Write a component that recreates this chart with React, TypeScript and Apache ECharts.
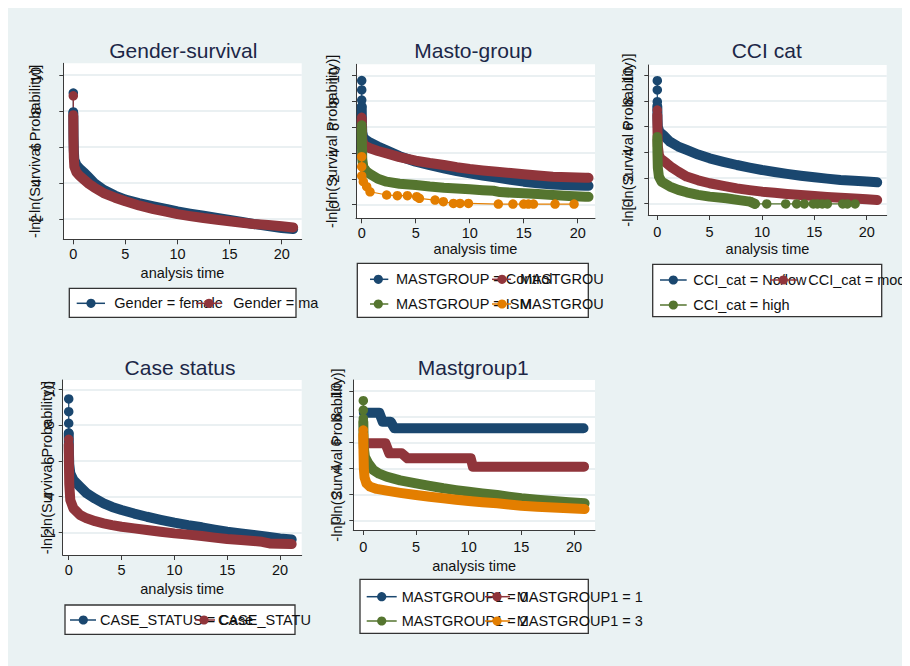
import { useEffect, useRef } from "react";
import * as echarts from "echarts";

// ---------- colours (Stata s2color) ----------
const NAVY = "#1a476f";
const MAROON = "#90353b";
const GREEN = "#55752f";
const ORANGE = "#e37e00";

// ---------- text ----------
const panelTitles = ["Gender-survival", "Masto-group", "CCI cat", "Case status", "Mastgroup1"];
const xTitle = "analysis time";
const yTitle = "-ln[-ln(Survival Probability)]";
const xTicks = [0, 5, 10, 15, 20];
const yTicksFrom2 = [2, 4, 6, 8, 10];
const yTicksFrom0 = [0, 2, 4, 6, 8, 10];

const genderLabels = ["Gender = female", "Gender = male"];
const mastoLabels = ["MASTGROUP = Control", "MASTGROUP", "MASTGROUP = ISM", "MASTGROUP"];
const cciLabels = ["CCI_cat = No/low", "CCI_cat = moderate", "CCI_cat = high"];
const caseLabels = ["CASE_STATUS = Case", "CASE_STATUS = Control"];
const mg1Labels = ["MASTGROUP1 = 0", "MASTGROUP1 = 1", "MASTGROUP1 = 2", "MASTGROUP1 = 3"];

// ---------- data: [analysis time, -ln(-ln S)] ----------
// Panel 1: Gender
const genderFemaleDots = [[0, 9.0], [0, 7.95]];
const genderFemaleBand = [[0, 7.9], [0.02, 6.6], [0.05, 5.8], [0.1, 5.3], [0.3, 5.0], [0.6, 4.8], [1, 4.6], [1.5, 4.3], [2, 4.0], [2.9, 3.62], [4, 3.3], [5, 3.07], [6.3, 2.88], [7.7, 2.7], [9, 2.55], [10, 2.42], [11.2, 2.3], [12.5, 2.18], [13.8, 2.06], [15, 1.94], [16.2, 1.83], [17.3, 1.72], [18.7, 1.6], [20, 1.5], [21.1, 1.44]];
const genderMaleDots = [[0, 8.84], [0, 7.78]];
const genderMaleBand = [[0, 7.7], [0.02, 6.3], [0.05, 5.4], [0.1, 4.9], [0.3, 4.6], [0.6, 4.4], [1, 4.2], [1.5, 3.95], [2, 3.75], [2.9, 3.44], [4, 3.18], [5, 2.98], [6.3, 2.75], [7.7, 2.55], [9, 2.4], [10, 2.27], [11.2, 2.16], [12.5, 2.05], [13.8, 1.96], [15, 1.87], [16.2, 1.79], [17.3, 1.72], [18.7, 1.67], [20, 1.6], [21.1, 1.53]];

// Panel 2: Masto-group
const mastoNavyDots = [[0, 9.59], [0, 8.87], [0, 8.09], [0, 7.58]];
const mastoNavyBand = [[0, 7.58], [0.02, 6.3], [0.05, 5.6], [0.15, 5.2], [0.4, 5.0], [0.77, 4.8], [1.5, 4.5], [2.3, 4.2], [3.5, 3.75], [5, 3.32], [6.3, 3.05], [7.6, 2.81], [8.8, 2.6], [10, 2.42], [11.2, 2.25], [12.5, 2.09], [13.8, 1.93], [15, 1.78], [16.3, 1.66], [17.7, 1.57], [19.2, 1.5], [20.7, 1.47], [21, 1.46]];
const mastoRedDots = [[0, 6.75]];
const mastoRedBand = [[0, 6.6], [0.02, 5.6], [0.05, 5.0], [0.2, 4.6], [0.77, 4.36], [1.5, 4.15], [2.3, 3.97], [3.5, 3.68], [5, 3.4], [6.3, 3.22], [7.6, 3.07], [8.8, 2.9], [10, 2.76], [11.2, 2.65], [12.5, 2.55], [13.8, 2.45], [15, 2.35], [16.3, 2.25], [17.7, 2.16], [19.2, 2.12], [20.7, 2.09], [21, 2.08]];
const mastoGreenDots = [[0, 6.16]];
const mastoGreenBand = [[0, 5.9], [0.02, 4.6], [0.05, 3.5], [0.15, 2.9], [0.46, 2.55], [0.77, 2.37], [1.5, 2.0], [2.3, 1.78], [3.5, 1.62], [5, 1.52], [6.3, 1.4], [7.6, 1.31], [8.8, 1.25], [10, 1.19], [11.2, 1.12], [12.2, 1.08], [12.8, 0.98], [14, 0.92], [15, 0.88], [16.3, 0.82], [17.7, 0.75], [19.2, 0.68], [20.7, 0.62], [21, 0.61]];
const mastoOrangeDots = [[0, 3.71], [0, 2.94], [0, 2.22], [0.15, 1.78], [0.46, 1.39], [0.77, 1.0], [2.31, 0.75], [3.3, 0.7], [4.23, 0.7], [5.09, 0.62], [5.34, 0.49], [6.79, 0.36], [7.56, 0.23], [8.49, 0.1], [9.1, 0.1], [9.88, 0.1], [12.65, 0.05], [14.0, 0.05], [15.0, 0.05], [15.43, 0.05], [15.9, 0.05], [17.9, 0.05], [19.66, 0.05]];

// Panel 3: CCI cat
const cciNavyDots = [[0, 9.61], [0, 8.88], [0, 7.96]];
const cciNavyBand = [[0, 7.6], [0.02, 6.6], [0.05, 6.0], [0.2, 5.6], [0.57, 5.35], [1.2, 4.83], [2, 4.45], [2.8, 4.18], [3.9, 3.82], [5, 3.52], [6.3, 3.25], [7.6, 3.0], [8.8, 2.8], [10, 2.61], [11.2, 2.45], [12.4, 2.3], [13.7, 2.16], [15, 2.04], [16.2, 1.93], [17.5, 1.83], [18.8, 1.76], [20, 1.7], [21, 1.64]];
const cciRedDots = [[0, 7.31]];
const cciRedBand = [[0, 6.9], [0.02, 5.6], [0.05, 4.5], [0.15, 3.8], [0.3, 3.5], [0.9, 3.13], [1.4, 2.8], [2.0, 2.48], [2.8, 2.09], [3.9, 1.8], [5, 1.57], [6.3, 1.36], [7.6, 1.17], [8.8, 1.03], [10, 0.91], [11.2, 0.82], [12.4, 0.73], [13.7, 0.65], [15, 0.57], [16.2, 0.5], [17.5, 0.44], [18.8, 0.38], [20, 0.31], [21, 0.26]];
const cciGreenDots = [[0, 5.22]];
const cciGreenBand = [[0, 5.0], [0.02, 3.8], [0.05, 2.8], [0.15, 2.1], [0.4, 1.7], [1.2, 1.31], [2, 1.05], [2.8, 0.86], [3.9, 0.66], [5, 0.52], [6.6, 0.39], [7.8, 0.25], [8.85, 0.13], [9.33, -0.05]];
const cciGreenTail = [[8.85, 0.13], [9.33, -0.05], [10.45, -0.05], [12.26, -0.05], [13.31, -0.05], [14.04, -0.05], [14.9, -0.05], [15.29, -0.05], [15.76, -0.05], [16.24, -0.05], [17.71, -0.05], [18.15, -0.05], [18.89, -0.05]];

// Panel 4: Case status
const caseNavyDots = [[0, 9.46], [0, 8.75], [0, 8.1], [0, 7.54]];
const caseNavyBand = [[0, 7.54], [0.02, 6.5], [0.05, 5.8], [0.15, 5.3], [0.44, 4.93], [1.07, 4.55], [1.7, 4.18], [2.5, 3.88], [3.3, 3.62], [4.1, 3.42], [5, 3.25], [6.2, 3.05], [7.4, 2.87], [8.7, 2.7], [10, 2.54], [11.3, 2.4], [12.6, 2.28], [13.8, 2.15], [15, 2.03], [16.3, 1.94], [17.5, 1.85], [18.8, 1.75], [20, 1.66], [21.1, 1.6]];
const caseRedDots = [[0, 7.2]];
const caseRedBand = [[0, 6.9], [0.02, 5.8], [0.05, 4.7], [0.15, 3.8], [0.44, 3.34], [1.07, 2.97], [1.7, 2.78], [2.5, 2.62], [3.3, 2.5], [4.1, 2.4], [5, 2.31], [6.2, 2.22], [7.4, 2.13], [8.7, 2.03], [10, 1.94], [11.3, 1.87], [12.6, 1.79], [13.8, 1.7], [15, 1.62], [16.3, 1.57], [17.5, 1.51], [18.3, 1.47], [19, 1.38], [20, 1.36], [21.1, 1.34]];

// Panel 5: Mastgroup1
const mg0Band = [[0.05, 8.3], [1.52, 8.3], [1.84, 7.61], [2.6, 7.61], [2.95, 7.1], [20.9, 7.1]];
const mg1Band = [[0.1, 5.94], [2.1, 5.94], [2.47, 5.17], [3.64, 5.17], [4.2, 4.78], [10.2, 4.78], [10.4, 4.14], [20.95, 4.14]];
const mg2Dots = [[0, 9.23], [0, 8.51], [0, 7.87]];
const mg2Band = [[0, 7.6], [0.02, 6.5], [0.05, 5.6], [0.15, 4.9], [0.47, 4.4], [0.95, 3.88], [1.5, 3.6], [2.2, 3.37], [3.5, 3.08], [5, 2.85], [6.3, 2.65], [7.6, 2.47], [8.8, 2.33], [10, 2.21], [11.3, 2.08], [12.7, 1.95], [13.8, 1.82], [15, 1.7], [16.5, 1.59], [18, 1.49], [19.5, 1.4], [21, 1.31]];
const mg3Dots = [[0, 6.97]];
const mg3Band = [[0, 6.6], [0.02, 5.2], [0.05, 4.0], [0.12, 3.3], [0.3, 2.85], [0.63, 2.6], [1.27, 2.42], [2.2, 2.29], [3.5, 2.12], [5, 1.95], [6.3, 1.82], [7.6, 1.7], [8.8, 1.59], [10, 1.49], [11.3, 1.4], [12.7, 1.31], [13.8, 1.22], [15, 1.13], [16.5, 1.05], [18, 0.98], [19.5, 0.92], [21, 0.87]];

// ---------- layout (page pixels) ----------
const OFF = 8; // body margin
const P = (v: number) => v - OFF;
const FONT = '"Liberation Sans", Arial, Helvetica, sans-serif';
const TXT = "#111111";
const AXIS = "#3a3a3a";
const GRIDC = "#e3ebee";
const BG = "#eaf2f3";
const BAND_W = 10;
const MARK = 9.5;

type Curve = { color: string; band?: number[][]; dots?: number[][] };
type LegItem = { y: number; x1: number; x2: number; mx: number; tx: number; color: string; label: string };
type Panel = {
  title: string; titleX: number; titleY: number;
  l: number; t: number; r: number; b: number;
  xMin: number; xMax: number; yMin: number; yMax: number;
  yTicks: number[]; yLabelMargin: number; yNameGap: number; xLabelMargin: number; xNameGap: number;
  curves: Curve[];
  legend: { box: number[]; clipX?: number; items: LegItem[] };
};

const panels: Panel[] = [
  {
    title: panelTitles[0], titleX: 183.3, titleY: 50.7,
    l: 63.3, t: 63.3, r: 301.7, b: 239.3,
    xMin: -0.96, xMax: 21.92, yMin: 0.87, yMax: 10.65,
    yTicks: yTicksFrom2, yLabelMargin: 19.5, yNameGap: 21, xLabelMargin: 7.5, xNameGap: 26,
    curves: [
      { color: NAVY, band: genderFemaleBand, dots: genderFemaleDots },
      { color: MAROON, band: genderMaleBand, dots: genderMaleDots },
    ],
    legend: {
      box: [69.3, 288.3, 296, 317.3], clipX: 320,
      items: [
        { y: 303.3, x1: 76.7, x2: 105, mx: 91, tx: 114.3, color: NAVY, label: genderLabels[0] },
        { y: 303.3, x1: 196, x2: 222, mx: 209, tx: 233.3, color: MAROON, label: genderLabels[1] },
      ],
    },
  },
  {
    title: panelTitles[1], titleX: 473.3, titleY: 50.7,
    l: 356, t: 64.3, r: 595, b: 218.3,
    xMin: -0.53, xMax: 21.6, yMin: -1.05, yMax: 10.85,
    yTicks: yTicksFrom0, yLabelMargin: 15, yNameGap: 17, xLabelMargin: 7, xNameGap: 23,
    curves: [
      { color: NAVY, band: mastoNavyBand, dots: mastoNavyDots },
      { color: MAROON, band: mastoRedBand, dots: mastoRedDots },
      { color: GREEN, band: mastoGreenBand, dots: mastoGreenDots },
      { color: ORANGE, dots: mastoOrangeDots },
    ],
    legend: {
      box: [357.3, 263.3, 588.3, 317.3], clipX: 610,
      items: [
        { y: 279.3, x1: 370, x2: 388.3, mx: 378.3, tx: 396, color: NAVY, label: mastoLabels[0] },
        { y: 279.3, x1: 492, x2: 511, mx: 502, tx: 520, color: MAROON, label: mastoLabels[1] },
        { y: 304, x1: 370, x2: 388.3, mx: 378.3, tx: 396, color: GREEN, label: mastoLabels[2] },
        { y: 304, x1: 492, x2: 511, mx: 502, tx: 520, color: ORANGE, label: mastoLabels[3] },
      ],
    },
  },
  {
    title: panelTitles[2], titleX: 766.7, titleY: 50.7,
    l: 648.3, t: 65, r: 886.7, b: 215,
    xMin: -0.86, xMax: 21.91, yMin: -0.92, yMax: 10.84,
    yTicks: yTicksFrom0, yLabelMargin: 13, yNameGap: 13, xLabelMargin: 9, xNameGap: 26.5,
    curves: [
      { color: NAVY, band: cciNavyBand, dots: cciNavyDots },
      { color: MAROON, band: cciRedBand, dots: cciRedDots },
      { color: GREEN, band: cciGreenBand, dots: cciGreenDots },
      { color: GREEN, dots: cciGreenTail },
    ],
    legend: {
      box: [652.7, 264.3, 881.7, 316.7],
      items: [
        { y: 280, x1: 660, x2: 686.7, mx: 673.3, tx: 693.3, color: NAVY, label: cciLabels[0] },
        { y: 280, x1: 770, x2: 797, mx: 783.3, tx: 808.3, color: MAROON, label: cciLabels[1] },
        { y: 305, x1: 660, x2: 686.7, mx: 673.3, tx: 693.3, color: GREEN, label: cciLabels[2] },
      ],
    },
  },
  {
    title: panelTitles[3], titleX: 180, titleY: 367.3,
    l: 62.7, t: 380, r: 301.7, b: 555,
    xMin: -0.57, xMax: 22.05, yMin: 0.73, yMax: 10.52,
    yTicks: yTicksFrom2, yLabelMargin: 6.5, yNameGap: 8.5, xLabelMargin: 7.5, xNameGap: 26,
    curves: [
      { color: NAVY, band: caseNavyBand, dots: caseNavyDots },
      { color: MAROON, band: caseRedBand, dots: caseRedDots },
    ],
    legend: {
      box: [65, 605, 295, 634.3], clipX: 318,
      items: [
        { y: 620, x1: 70, x2: 96, mx: 83.3, tx: 100, color: NAVY, label: caseLabels[0] },
        { y: 620, x1: 195, x2: 215, mx: 204, tx: 218, color: MAROON, label: caseLabels[1] },
      ],
    },
  },
  {
    title: panelTitles[4], titleX: 473.3, titleY: 367.3,
    l: 353.3, t: 380, r: 595, b: 530,
    xMin: -0.95, xMax: 21.99, yMin: -0.75, yMax: 10.83,
    yTicks: yTicksFrom0, yLabelMargin: 9.5, yNameGap: 9, xLabelMargin: 9, xNameGap: 28,
    curves: [
      { color: NAVY, band: mg0Band },
      { color: MAROON, band: mg1Band },
      { color: GREEN, band: mg2Band, dots: mg2Dots },
      { color: ORANGE, band: mg3Band, dots: mg3Dots },
    ],
    legend: {
      box: [360, 579.3, 588.3, 633.3],
      items: [
        { y: 596.7, x1: 366.7, x2: 396.7, mx: 381.7, tx: 401.7, color: NAVY, label: mg1Labels[0] },
        { y: 596.7, x1: 485, x2: 510, mx: 497, tx: 516.7, color: MAROON, label: mg1Labels[1] },
        { y: 621, x1: 366.7, x2: 396.7, mx: 381.7, tx: 401.7, color: GREEN, label: mg1Labels[2] },
        { y: 621, x1: 485, x2: 510, mx: 497, tx: 516.7, color: ORANGE, label: mg1Labels[3] },
      ],
    },
  },
];

function buildOption() {
  const grids: any[] = [];
  const xAxes: any[] = [];
  const yAxes: any[] = [];
  const series: any[] = [];
  const graphics: any[] = [];
  const smallText = { fontSize: 14.5, color: TXT, fontFamily: FONT };

  panels.forEach((p, i) => {
    grids.push({
      left: P(p.l), top: P(p.t), width: p.r - p.l, height: p.b - p.t,
      show: true, backgroundColor: "#ffffff", borderWidth: 0, containLabel: false,
      outerBoundsMode: "none",
    });
    xAxes.push({
      type: "value", gridIndex: i, min: p.xMin, max: p.xMax,
      axisLine: { show: true, onZero: false, lineStyle: { color: AXIS, width: 1 } },
      axisTick: { show: true, customValues: xTicks, length: 5, lineStyle: { color: AXIS, width: 1 } },
      axisLabel: { show: true, customValues: xTicks, margin: p.xLabelMargin, hideOverlap: false, ...smallText },
      splitLine: { show: false },
      name: xTitle, nameLocation: "middle", nameGap: p.xNameGap, nameTextStyle: smallText,
      nameMoveOverlap: false,
    });
    yAxes.push({
      type: "value", gridIndex: i, min: p.yMin, max: p.yMax,
      axisLine: { show: true, onZero: false, lineStyle: { color: AXIS, width: 1 } },
      axisTick: { show: true, customValues: p.yTicks, length: 4, lineStyle: { color: AXIS, width: 1 } },
      axisLabel: { show: true, customValues: p.yTicks, rotate: 90, margin: p.yLabelMargin, hideOverlap: false, ...smallText },
      splitLine: { show: true, lineStyle: { color: GRIDC, width: 1.5 } },
      name: yTitle, nameLocation: "middle", nameRotate: 90, nameGap: p.yNameGap, nameTextStyle: smallText,
      nameMoveOverlap: false,
    });
    p.curves.forEach((c) => {
      if (c.band) {
        series.push({
          type: "line", xAxisIndex: i, yAxisIndex: i, data: c.band, symbol: "none", silent: true,
          lineStyle: { color: c.color, width: BAND_W, cap: "round", join: "round" },
        });
      }
      if (c.dots) {
        series.push({
          type: "line", xAxisIndex: i, yAxisIndex: i, data: c.dots, symbol: "circle", symbolSize: MARK,
          showAllSymbol: true, silent: true,
          itemStyle: { color: c.color, borderWidth: 0 },
          lineStyle: { color: c.color, width: 1.2 },
        });
      }
    });

    // title
    graphics.push({
      type: "text", x: P(p.titleX), y: P(p.titleY), silent: true,
      style: {
        text: p.title, fill: "#1c2747", font: `21px ${FONT}`,
        align: "center", verticalAlign: "middle", textAlign: "center", textVerticalAlign: "middle",
      },
    });

    // legend
    const [bx1, by1, bx2, by2] = p.legend.box;
    graphics.push({
      type: "rect", silent: true,
      shape: { x: P(bx1), y: P(by1), width: bx2 - bx1, height: by2 - by1 },
      style: { fill: "#ffffff", stroke: "#333333", lineWidth: 1.3 },
    });
    p.legend.items.forEach((it) => {
      graphics.push({
        type: "line", silent: true,
        shape: { x1: P(it.x1), y1: P(it.y), x2: P(it.x2), y2: P(it.y) },
        style: { stroke: it.color, lineWidth: 1.5 },
      });
      graphics.push({
        type: "circle", silent: true,
        shape: { cx: P(it.mx), cy: P(it.y), r: 4.6 },
        style: { fill: it.color },
      });
      const st: any = {
        text: it.label, fill: TXT, font: `14.5px ${FONT}`,
        align: "left", verticalAlign: "middle", textAlign: "left", textVerticalAlign: "middle",
      };
      if (p.legend.clipX) {
        st.width = p.legend.clipX - it.tx;
        st.overflow = "truncate";
        st.ellipsis = "";
      }
      graphics.push({ type: "text", x: P(it.tx), y: P(it.y), silent: true, style: st });
    });
  });

  return {
    animation: false,
    backgroundColor: BG,
    grid: grids,
    xAxis: xAxes,
    yAxis: yAxes,
    series,
    graphic: { elements: graphics },
  };
}

export default function App() {
  const ref = useRef<HTMLDivElement>(null);
  useEffect(() => {
    document.documentElement.style.overflow = "hidden";
    document.body.style.overflow = "hidden";
    if (!ref.current) return;
    const chart = echarts.init(ref.current, null, { renderer: "svg" });
    chart.setOption(buildOption() as any);
    return () => chart.dispose();
  }, []);
  return <div ref={ref} style={{ width: 902, height: 658 }} />;
}
